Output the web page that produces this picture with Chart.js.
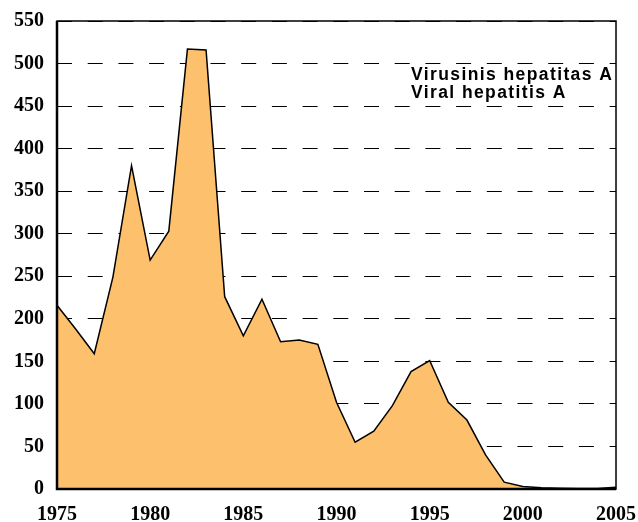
<!DOCTYPE html>
<html>
<head>
<meta charset="utf-8">
<script src="https://cdn.jsdelivr.net/npm/chart.js@4.4.0/dist/chart.umd.min.js"></script>
<style>
  html, body { margin: 0; padding: 0; background: #fff; }
  #wrap { width: 638px; height: 522px; }
</style>
</head>
<body>
<div id="wrap"><canvas id="area-chart"></canvas></div>
<script>
// years and reported cases
var years = [1975, 1976, 1977, 1978, 1979, 1980, 1981, 1982, 1983, 1984,
             1985, 1986, 1987, 1988, 1989, 1990, 1991, 1992, 1993, 1994,
             1995, 1996, 1997, 1998, 1999, 2000, 2001, 2002, 2003, 2004, 2005];
var cases = [216, 188, 159, 249, 380, 269, 303, 517, 516, 226,
             180, 223, 173, 175, 170, 102, 55, 68, 98, 138,
             151, 102, 81, 40, 8, 3, 1.5, 1, 0.5, 0.5, 2];
var legendLines = ['Virusinis hepatitas A', 'Viral hepatitis A'];

var points = years.map(function (y, i) { return { x: y, y: cases[i] }; });

// box round the plot + the text label
var framePlugin = {
    id: 'frame',
    afterDatasetsDraw: function (chart) {
        var ctx = chart.ctx, a = chart.chartArea;
        ctx.save();
        ctx.strokeStyle = '#000';
        ctx.lineWidth = 1.5;
        ctx.strokeRect(a.left, a.top, a.right - a.left, a.bottom - a.top);
        ctx.lineWidth = 2.5;
        ctx.beginPath();
        ctx.moveTo(a.left, a.top);
        ctx.lineTo(a.left, a.bottom);
        ctx.lineTo(a.right, a.bottom);
        ctx.stroke();

        ctx.fillStyle = '#000';
        ctx.font = 'bold 17.5px "Liberation Sans", Arial, sans-serif';
        if ('letterSpacing' in ctx) ctx.letterSpacing = '1.4px';
        ctx.textAlign = 'left';
        ctx.textBaseline = 'alphabetic';
        ctx.fillText(legendLines[0], a.right - 205, a.top + 59);
        ctx.fillText(legendLines[1], a.right - 205, a.top + 77);
        ctx.restore();
    }
};

// drop the automatic label overhang so the plot box sits like the original
function noOverhang(scale) {
    scale.paddingLeft = 0;
    scale.paddingRight = 0;
    scale.paddingTop = 0;
    scale.paddingBottom = 0;
}

var ctx = document.getElementById('area-chart').getContext('2d');
var myChart = new Chart(ctx, {
    type: 'line',
    data: {
        datasets: [{
            label: 'Viral hepatitis A',
            data: points,
            borderColor: '#000',
            borderWidth: 1.5,
            backgroundColor: '#FDC06C',
            fill: 'origin',
            tension: 0,
            pointRadius: 0
        }]
    },
    options: {
        responsive: true,
        maintainAspectRatio: false,
        animation: false,
        layout: { padding: { left: 0, top: 21, right: 22, bottom: 0 } },
        plugins: {
            legend: { display: false },
            tooltip: { enabled: false }
        },
        scales: {
            x: {
                type: 'linear',
                min: 1975,
                max: 2005,
                afterFit: function (scale) { noOverhang(scale); scale.height = 33; },
                ticks: {
                    stepSize: 5,
                    color: '#000',
                    padding: 14,
                    maxRotation: 0,
                    font: { family: '"Liberation Serif", "Times New Roman", serif', size: 20, weight: 'bold' },
                    callback: function (v) { return String(v); }
                },
                grid: { display: false, drawTicks: false },
                border: { display: false }
            },
            y: {
                min: 0,
                max: 550,
                afterFit: function (scale) { noOverhang(scale); scale.width = 57; },
                ticks: {
                    stepSize: 50,
                    color: '#000',
                    padding: 13,
                    font: { family: '"Liberation Serif", "Times New Roman", serif', size: 20, weight: 'bold' }
                },
                grid: { color: '#000', lineWidth: 1, drawTicks: false },
                border: { display: false, dash: [15, 15.7] }
            }
        }
    },
    plugins: [framePlugin]
});
</script>
</body>
</html>
